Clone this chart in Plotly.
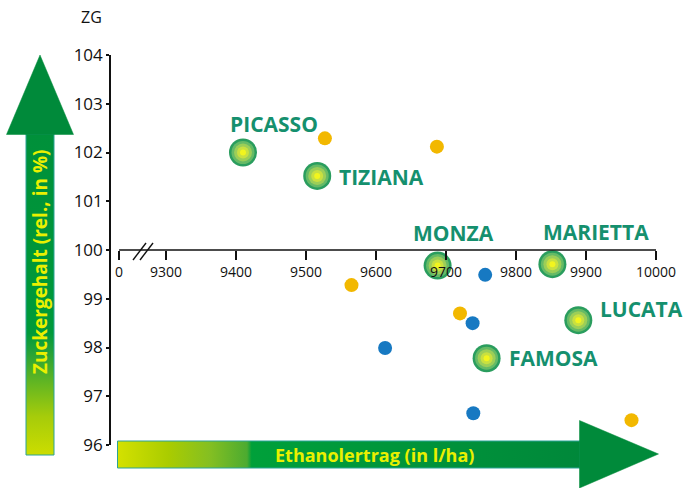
import plotly.graph_objects as go

# ---------------- data ----------------
VARIETIES = ["PICASSO", "TIZIANA", "MONZA", "MARIETTA", "LUCATA", "FAMOSA"]
VAR_X = [9410, 9516, 9688, 9852, 9889, 9758]
VAR_Y = [102.00, 101.52, 99.68, 99.71, 98.56, 97.78]

YELLOW_X = [9527, 9687, 9565, 9720, 9965]
YELLOW_Y = [102.29, 102.12, 99.28, 98.70, 96.51]

BLUE_X = [9756, 9738, 9613, 9739]
BLUE_Y = [99.49, 98.50, 97.99, 96.65]

X_ORIGIN = 9233            # position of the broken-axis "0"
X_TICKS = [9300, 9400, 9500, 9600, 9700, 9800, 9900, 10000]
Y_TICKS = [96, 97, 98, 99, 100, 101, 102, 103, 104]
X_AXIS_AT_Y = 100

# ---------------- style ----------------
W, H = 685, 488
PL, PR, PT, PB = 111, 670, 55, 445      # plot box in pixels
FONT = "Open Sans"
LABEL_GREEN = "#15906E"
YEL = "#F2B800"
BLUE = "#1779C2"
ARROW_GREEN = "#008A3A"
TEXT_YEL = "#EAF000"

# label offsets in pixels: (dx, dy_up, xanchor)
LABEL_OFF = {
    "PICASSO": (31, 29, "center"),
    "TIZIANA": (21, -1, "left"),
    "MONZA": (16, 33, "center"),
    "MARIETTA": (44, 32, "center"),
    "LUCATA": (21, 11, "left"),
    "FAMOSA": (21, 0, "left"),
}

fig = go.Figure()

# ---- decorative arrows on a pixel-coordinate overlay (x2/y2) ----
fig.add_trace(go.Scatter(
    x=[26, 54, 54, 26, 26], y=[134, 134, 455, 455, 134],
    xaxis="x2", yaxis="y2", mode="lines", fill="toself",
    line=dict(color="#2BA396", width=1),
    fillgradient=dict(type="vertical", start=455, stop=134,
                      colorscale=[[0, "#CCDD00"], [0.12, "#A6CC0A"],
                                  [0.33, "#1FA03A"], [0.38, "#009A3A"],
                                  [1, "#00903A"]]),
    hoverinfo="skip", showlegend=False))
fig.add_trace(go.Scatter(
    x=[6.5, 73.5, 40, 6.5], y=[134.5, 134.5, 55, 134.5],
    xaxis="x2", yaxis="y2", mode="lines", fill="toself",
    line=dict(color=ARROW_GREEN, width=0.5), fillcolor=ARROW_GREEN,
    hoverinfo="skip", showlegend=False))
fig.add_trace(go.Scatter(
    x=[117.5, 580, 580, 117.5, 117.5], y=[441, 441, 468, 468, 441],
    xaxis="x2", yaxis="y2", mode="lines", fill="toself",
    line=dict(color="#2BA396", width=1),
    fillgradient=dict(type="horizontal", start=117.5, stop=580,
                      colorscale=[[0, "#D4E100"], [0.11, "#AACC00"],
                                  [0.2, "#84BF22"], [0.28, "#4CAB30"],
                                  [0.29, "#00A03A"], [1, "#00883A"]]),
    hoverinfo="skip", showlegend=False))
fig.add_trace(go.Scatter(
    x=[579.5, 579.5, 658.5, 579.5], y=[420.5, 488, 454, 420.5],
    xaxis="x2", yaxis="y2", mode="lines", fill="toself",
    line=dict(color=ARROW_GREEN, width=0.5), fillcolor=ARROW_GREEN,
    hoverinfo="skip", showlegend=False))

# ---- data points ----
fig.add_trace(go.Scatter(x=YELLOW_X, y=YELLOW_Y, mode="markers",
                         marker=dict(size=14, color=YEL, line=dict(width=0)),
                         showlegend=False))
fig.add_trace(go.Scatter(x=BLUE_X, y=BLUE_Y, mode="markers",
                         marker=dict(size=14, color=BLUE, line=dict(width=0)),
                         showlegend=False))
for size, col in zip([28, 23, 18, 12, 6],
                     ["#2A9D5E", "#66BA66", "#9CCE58", "#C9E040", "#F2F51E"]):
    fig.add_trace(go.Scatter(x=VAR_X, y=VAR_Y, mode="markers",
                             marker=dict(size=size, color=col, line=dict(width=0)),
                             hoverinfo="skip", showlegend=False))

# ---- variety labels ----
annotations = []
for name, x, y in zip(VARIETIES, VAR_X, VAR_Y):
    dx, dy, xa = LABEL_OFF[name]
    annotations.append(dict(x=x, y=y, xref="x", yref="y", text=name,
                            showarrow=False, xanchor=xa, yanchor="middle",
                            xshift=dx, yshift=dy, borderpad=0,
                            font=dict(family=FONT, size=21, color=LABEL_GREEN,
                                      weight="bold")))
annotations += [
    dict(x=91, y=17, xref="x2", yref="y2", text="ZG", showarrow=False,
         font=dict(family=FONT, size=16, color="#111")),
    dict(x=40, y=262, xref="x2", yref="y2", text="Zuckergehalt (rel., in %)",
         textangle=-90, showarrow=False,
         font=dict(family=FONT, size=19, color=TEXT_YEL, weight="bold")),
    dict(x=374, y=455, xref="x2", yref="y2", text="Ethanolertrag (in l/ha)",
         showarrow=False,
         font=dict(family=FONT, size=18, color=TEXT_YEL, weight="bold")),
]

# ---- axis line and break marks ----
shapes = [
    dict(type="line", xref="x", yref="y", x0=X_ORIGIN, x1=X_TICKS[-1],
         y0=X_AXIS_AT_Y, y1=X_AXIS_AT_Y, line=dict(color="#111", width=1.6)),
    dict(type="line", xref="x2", yref="y2", x0=133, y0=260, x1=146, y1=243,
         line=dict(color="#111", width=1.4)),
    dict(type="line", xref="x2", yref="y2", x0=140, y0=260, x1=153, y1=243,
         line=dict(color="#111", width=1.4)),
]

px_per_unit = 0.7
x_lo = 9300 - (166 - PL) / px_per_unit
x_hi = 9300 + (PR - 166) / px_per_unit

fig.update_layout(
    width=W, height=H, autosize=False,
    margin=dict(l=0, r=0, t=0, b=0, pad=0, autoexpand=False),
    paper_bgcolor="white", plot_bgcolor="rgba(0,0,0,0)",
    font=dict(family=FONT, color="#111"),
    xaxis=dict(domain=[PL / W, PR / W], range=[x_lo, x_hi],
               anchor="free", position=(H - (PT + (PB - PT) / 2)) / H,
               automargin=False,
               showline=False, showgrid=False, zeroline=False,
               ticks="outside", ticklen=9, tickwidth=1.6, tickcolor="#111",
               tickvals=[X_ORIGIN] + X_TICKS,
               ticktext=["0"] + [str(v) for v in X_TICKS],
               tickfont=dict(size=14, family=FONT, color="#111")),
    yaxis=dict(domain=[(H - PB) / H, (H - PT) / H], range=[96, 104],
               anchor="x", automargin=False,
               showline=True, linecolor="#111", linewidth=1.6,
               showgrid=False, zeroline=False,
               ticks="outside", ticklen=3, tickwidth=1.6, tickcolor="#111",
               tickvals=Y_TICKS, ticktext=[str(v) for v in Y_TICKS],
               tickfont=dict(size=17, family=FONT, color="#111")),
    xaxis2=dict(domain=[0, 1], range=[0, W], visible=False, anchor="y2",
                fixedrange=True, automargin=False),
    yaxis2=dict(domain=[0, 1], range=[H, 0], visible=False, anchor="x2",
                fixedrange=True, automargin=False),
    annotations=annotations, shapes=shapes, showlegend=False,
)

fig.write_html(
    "out.html",
    config={"displayModeBar": False},
    post_script="document.body.style.margin='0';document.body.style.overflow='hidden';",
)
